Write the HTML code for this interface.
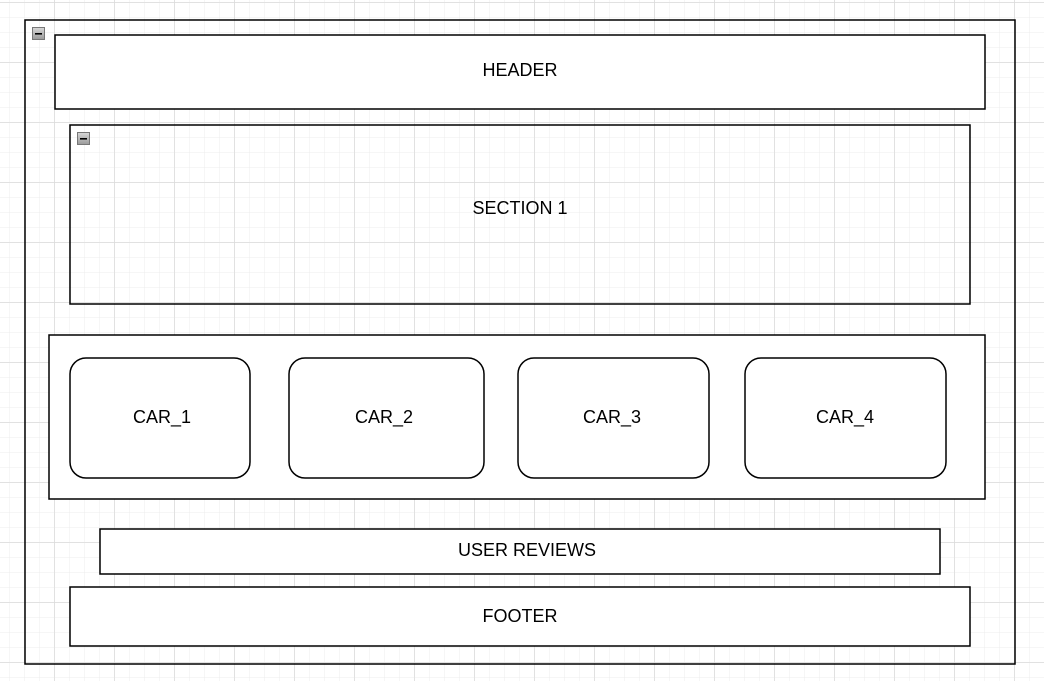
<!DOCTYPE html>
<html><head><meta charset="utf-8"><style>
html,body{margin:0;padding:0;background:#fff;}
svg{display:block;}
text{font-family:"Liberation Sans",Arial,sans-serif;font-size:18px;fill:#000;}
</style></head><body>
<svg width="1044" height="681" viewBox="0 0 1044 681" xmlns="http://www.w3.org/2000/svg">
<defs>
<pattern id="minor" x="9" y="2" width="15" height="15" patternUnits="userSpaceOnUse">
<path d="M0 0H15M0 0V15" stroke="#ececec" stroke-width="1" fill="none"/>
</pattern>
<pattern id="major" x="54.5" y="2.5" width="60" height="60" patternUnits="userSpaceOnUse">
<path d="M0 0H60M0 0V60" stroke="#d6d6d6" stroke-width="1" fill="none"/>
</pattern>
<linearGradient id="btn" x1="0" y1="0" x2="0" y2="1"><stop offset="0" stop-color="#d8d8d8"/><stop offset="1" stop-color="#9a9a9a"/></linearGradient>
</defs>
<rect width="1044" height="681" fill="#fff"/>
<rect width="1044" height="681" fill="url(#minor)"/>
<rect width="1044" height="681" fill="url(#major)"/>
<g stroke="#000" stroke-width="1.5">
<rect x="25" y="20" width="990" height="644" fill="none"/>
<rect x="55" y="35" width="930" height="74" fill="#fff"/>
<rect x="70" y="125" width="900" height="179" fill="none"/>
<rect x="49" y="335" width="936" height="164" fill="#fff"/>
<rect x="70" y="358" width="180" height="120" rx="16" fill="#fff"/>
<rect x="289" y="358" width="195" height="120" rx="16" fill="#fff"/>
<rect x="518" y="358" width="191" height="120" rx="16" fill="#fff"/>
<rect x="745" y="358" width="201" height="120" rx="16" fill="#fff"/>
<rect x="100" y="529" width="840" height="45" fill="#fff"/>
<rect x="70" y="587" width="900" height="59" fill="#fff"/>
</g>
<g>
<rect x="32.5" y="27.5" width="12" height="12" fill="url(#btn)" stroke="#777" stroke-width="1"/>
<rect x="35" y="33" width="7" height="1.6" fill="#000"/>
<rect x="77.5" y="132.5" width="12" height="12" fill="url(#btn)" stroke="#777" stroke-width="1"/>
<rect x="80" y="138" width="7" height="1.6" fill="#000"/>
</g>
<g text-anchor="middle">
<text x="520" y="76">HEADER</text>
<text x="520" y="214">SECTION 1</text>
<text x="162" y="423">CAR_1</text>
<text x="384" y="423">CAR_2</text>
<text x="612" y="423">CAR_3</text>
<text x="845" y="423">CAR_4</text>
<text x="527" y="556">USER REVIEWS</text>
<text x="520" y="622">FOOTER</text>
</g>
</svg>
</body></html>
